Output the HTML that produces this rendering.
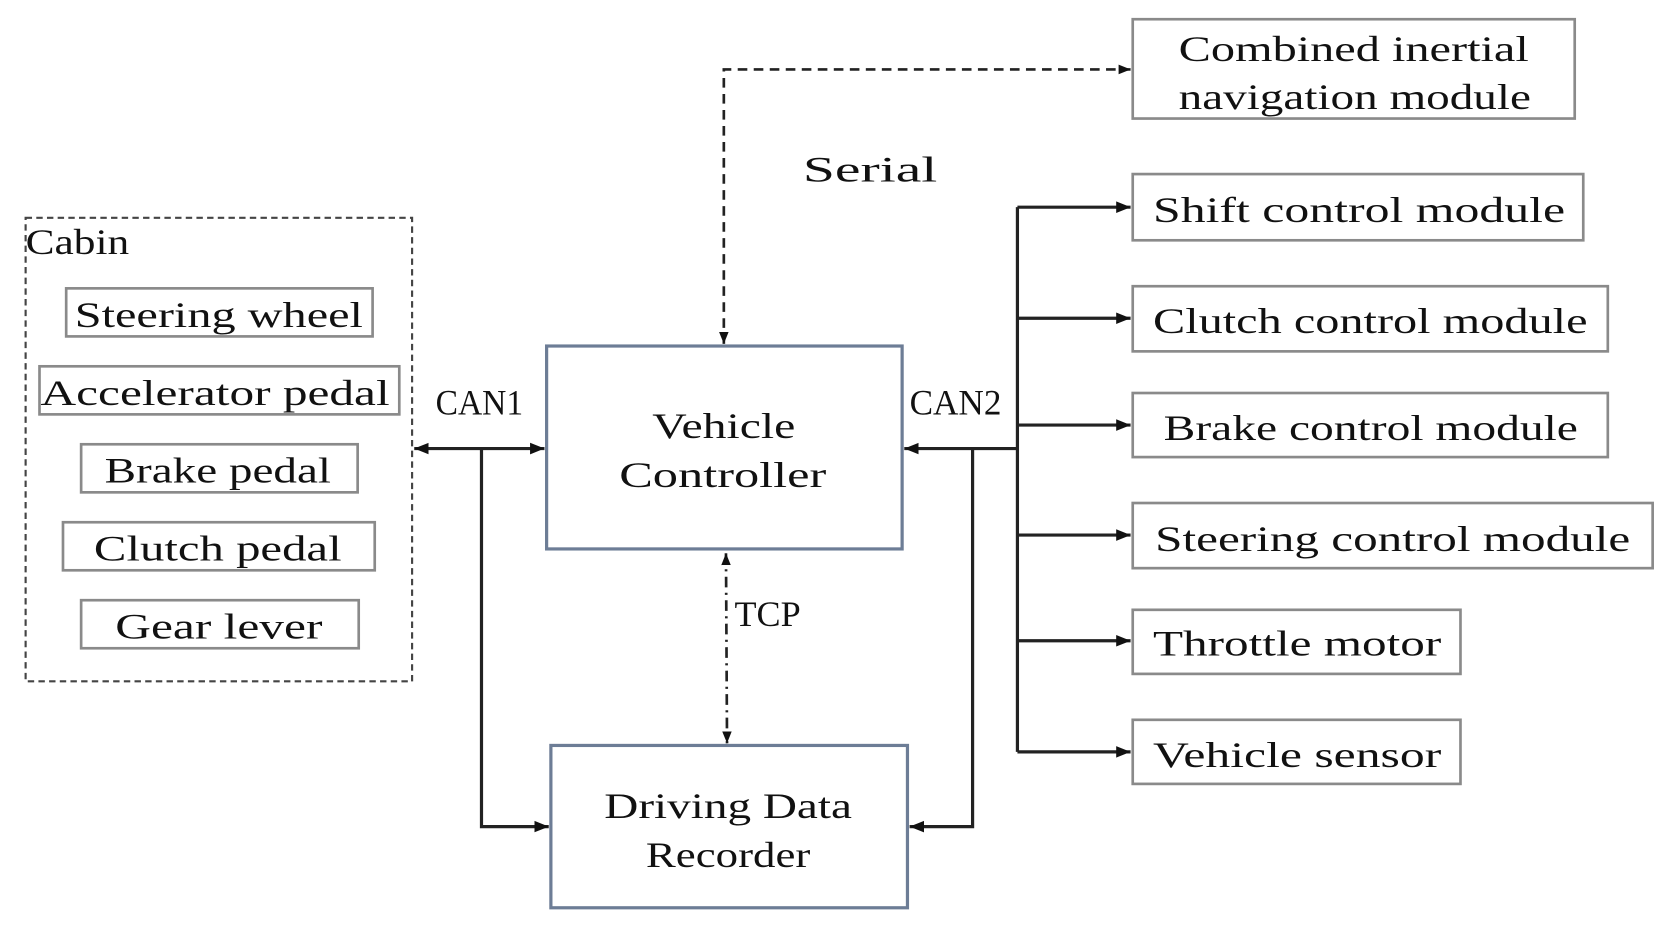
<!DOCTYPE html>
<html><head><meta charset="utf-8"><style>html,body{margin:0;padding:0;background:#fff;overflow:hidden}svg{display:block}text{font-family:"Liberation Serif",serif;font-size:34px;fill:#111}</style></head>
<body>
<svg width="1674" height="927" viewBox="0 0 1568 868" preserveAspectRatio="none" xmlns="http://www.w3.org/2000/svg">
<defs>
<marker id="a" viewBox="0 0 10 10" refX="10" refY="5" markerWidth="4.5" markerHeight="4.5" orient="auto-start-reverse"><path d="M0,1 L10,5 L0,9 z" fill="#111"/></marker>
</defs>
<g fill="none" stroke="#8a8a8a" stroke-width="2.5">
<rect x="1061" y="18" width="414" height="93"/>
<rect x="1061" y="163" width="422" height="62"/>
<rect x="1061" y="268" width="445" height="61"/>
<rect x="1061" y="368" width="445" height="60"/>
<rect x="1061" y="471" width="487" height="61"/>
<rect x="1061" y="571" width="307" height="60"/>
<rect x="1061" y="674" width="307" height="60"/>
<rect x="62" y="270" width="287" height="45"/>
<rect x="37" y="343" width="337" height="45"/>
<rect x="76" y="416" width="259" height="45"/>
<rect x="59" y="489" width="292" height="45"/>
<rect x="76" y="562" width="260" height="45"/>
</g>
<rect x="24" y="204" width="362" height="434" fill="none" stroke="#444" stroke-width="2" stroke-dasharray="6,4"/>
<g fill="none" stroke="#6d7d96" stroke-width="3">
<rect x="512" y="324" width="333" height="190"/>
<rect x="516" y="698" width="334" height="152"/>
</g>
<g fill="none" stroke="#222" stroke-width="3">
<polyline points="953,194 953,704"/>
<line x1="953" y1="194" x2="1059" y2="194" marker-end="url(#a)"/>
<line x1="953" y1="298" x2="1059" y2="298" marker-end="url(#a)"/>
<line x1="953" y1="398" x2="1059" y2="398" marker-end="url(#a)"/>
<line x1="953" y1="501" x2="1059" y2="501" marker-end="url(#a)"/>
<line x1="953" y1="600" x2="1059" y2="600" marker-end="url(#a)"/>
<line x1="953" y1="704" x2="1059" y2="704" marker-end="url(#a)"/>
<line x1="953" y1="420" x2="847" y2="420" marker-end="url(#a)"/>
<polyline points="911,420 911,774 852,774" marker-end="url(#a)"/>
<line x1="388" y1="420" x2="510" y2="420" marker-start="url(#a)" marker-end="url(#a)"/>
<polyline points="451,420 451,774 514,774" marker-end="url(#a)"/>
<polyline points="678,322 678,65 1059,65" stroke-width="2.5" stroke-dasharray="9,6" marker-start="url(#a)" marker-end="url(#a)"/>
<line x1="680" y1="518" x2="681" y2="696" stroke-width="2.5" stroke-dasharray="10,5,2,5" marker-start="url(#a)" marker-end="url(#a)"/>
</g>
<text x="1104" y="57" textLength="328" lengthAdjust="spacingAndGlyphs">Combined inertial</text>
<text x="1104" y="102" textLength="330" lengthAdjust="spacingAndGlyphs">navigation module</text>
<text x="752" y="170" textLength="126" lengthAdjust="spacingAndGlyphs">Serial</text>
<text x="1080" y="208" textLength="386" lengthAdjust="spacingAndGlyphs">Shift control module</text>
<text x="1080" y="312" textLength="407" lengthAdjust="spacingAndGlyphs">Clutch control module</text>
<text x="1090" y="412" textLength="388" lengthAdjust="spacingAndGlyphs">Brake control module</text>
<text x="1082" y="516" textLength="445" lengthAdjust="spacingAndGlyphs">Steering control module</text>
<text x="1080" y="614" textLength="270" lengthAdjust="spacingAndGlyphs">Throttle motor</text>
<text x="1080" y="718" textLength="270" lengthAdjust="spacingAndGlyphs">Vehicle sensor</text>
<text x="852" y="388" textLength="86" lengthAdjust="spacingAndGlyphs">CAN2</text>
<text x="408" y="388" textLength="82" lengthAdjust="spacingAndGlyphs">CAN1</text>
<text x="611" y="410" textLength="134" lengthAdjust="spacingAndGlyphs">Vehicle</text>
<text x="580" y="456" textLength="194" lengthAdjust="spacingAndGlyphs">Controller</text>
<text x="566" y="766" textLength="232" lengthAdjust="spacingAndGlyphs">Driving Data</text>
<text x="605" y="812" textLength="154" lengthAdjust="spacingAndGlyphs">Recorder</text>
<text x="688" y="586" textLength="62" lengthAdjust="spacingAndGlyphs">TCP</text>
<text x="24" y="238" textLength="97" lengthAdjust="spacingAndGlyphs">Cabin</text>
<text x="70" y="306" textLength="270" lengthAdjust="spacingAndGlyphs">Steering wheel</text>
<text x="38" y="379" textLength="327" lengthAdjust="spacingAndGlyphs">Accelerator pedal</text>
<text x="98" y="452" textLength="212" lengthAdjust="spacingAndGlyphs">Brake pedal</text>
<text x="88" y="525" textLength="232" lengthAdjust="spacingAndGlyphs">Clutch pedal</text>
<text x="108" y="598" textLength="194" lengthAdjust="spacingAndGlyphs">Gear lever</text>
</svg>
</body></html>
